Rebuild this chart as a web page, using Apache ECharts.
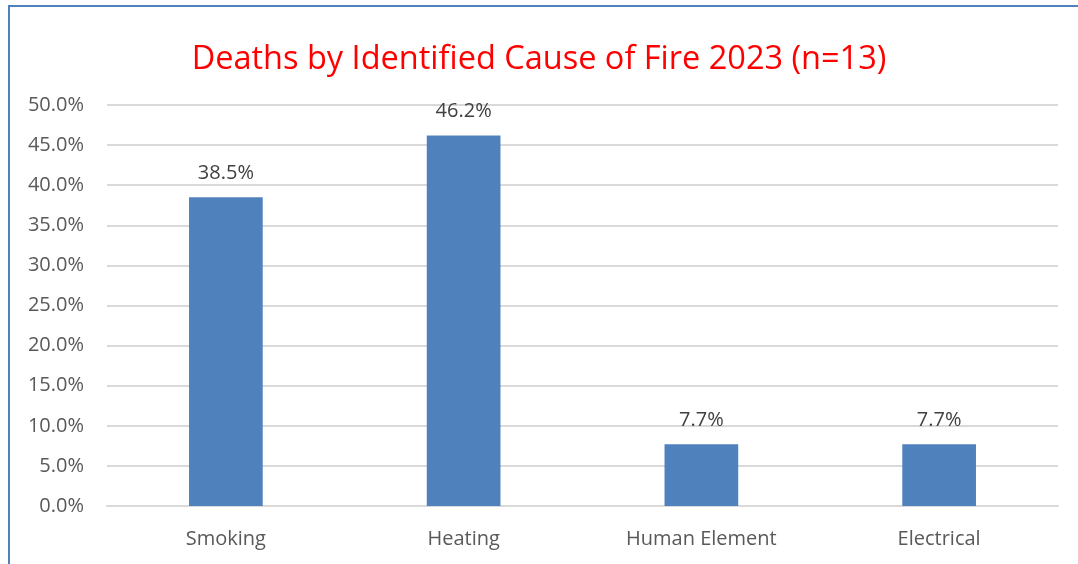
<!DOCTYPE html>
<html>
<head>
<meta charset="utf-8">
<script src="https://cdn.jsdelivr.net/npm/echarts@6/dist/echarts.min.js"></script>
<style>
  html, body { margin: 0; padding: 0; background: #fff; }
  #frame { position: absolute; left: 8px; top: 5px; width: 1070px; height: 559px;
           border-left: 2px solid #4f81bd; border-top: 2px solid #4f81bd; box-sizing: border-box; }
  #chart { position: absolute; left: 0; top: 0; width: 1078px; height: 564px; }
</style>
</head>
<body>
<div id="frame"></div>
<div id="chart"></div>
<script>
const causes = ["Smoking", "Heating", "Human Element", "Electrical"];
const deathShare = [38.5, 46.2, 7.7, 7.7];
const titleText = "Deaths by Identified Cause of Fire 2023 (n=13)";

const fontFamily = "'Open Sans', Lato, sans-serif";
const chart = echarts.init(document.getElementById("chart"));

chart.setOption({
  animation: false,
  title: {
    text: titleText,
    left: "center",
    top: 38,
    textStyle: { color: "#ff0000", fontSize: 32.5, fontWeight: "normal", fontFamily: fontFamily }
  },
  grid: { left: 107, right: 20, top: 105, bottom: 58 },
  xAxis: {
    type: "category",
    data: causes,
    axisLine: { show: true, lineStyle: { color: "#d9d9d9", width: 2 } },
    axisTick: { show: false },
    axisLabel: { color: "#595959", fontSize: 20, margin: 23, fontFamily: fontFamily }
  },
  yAxis: {
    type: "value",
    min: 0,
    max: 50,
    interval: 5,
    axisLine: { show: false },
    axisTick: { show: false },
    splitLine: { lineStyle: { color: "#d9d9d9", width: 2 } },
    axisLabel: {
      color: "#595959", fontSize: 20, margin: 23, fontFamily: fontFamily,
      formatter: v => v.toFixed(1) + "%"
    }
  },
  series: [{
    type: "bar",
    data: deathShare,
    barWidth: "31%",
    itemStyle: { color: "#4f81bd" },
    label: {
      show: true,
      position: "top",
      distance: 14,
      color: "#404040",
      fontSize: 20,
      fontFamily: fontFamily,
      formatter: p => p.value.toFixed(1) + "%"
    }
  }]
});
</script>
</body>
</html>
